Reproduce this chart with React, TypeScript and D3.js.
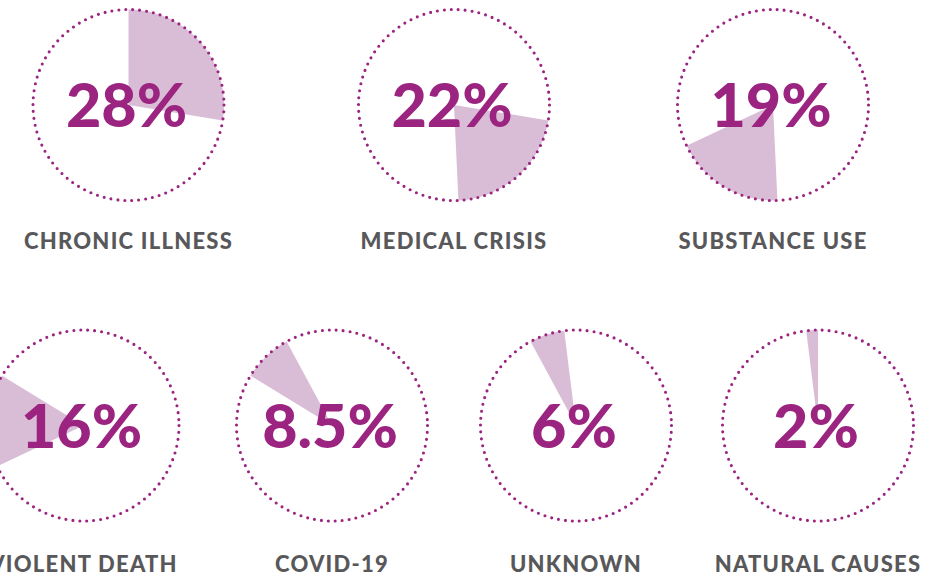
import React from "react";
import * as d3 from "d3";

const categories = ["CHRONIC ILLNESS", "MEDICAL CRISIS", "SUBSTANCE USE", "VIOLENT DEATH", "COVID-19", "UNKNOWN", "NATURAL CAUSES"];
const values = [28, 22, 19, 16, 8.5, 6, 2];
const valueLabels = ["28%", "22%", "19%", "16%", "8.5%", "6%", "2%"];

const W = 950;
const H = 577;
const R = 95.5;
const rowY = [105, 425.5];
const labelY = [144, 146.5];
const centersX = [128.5, 454, 773, 83.5, 332, 576, 818];
const rowOf = [0, 0, 0, 1, 1, 1, 1];

const PURPLE = "#9B2480";
const WEDGE = "#D9BDD6";
const GRAY = "#58585A";

export default function App() {
  const pie = d3.pie<number>().sort(null).value((d) => d).startAngle(0).endAngle(2 * Math.PI);
  const slices = pie(values);
  const arc = d3.arc<d3.PieArcDatum<number>>().innerRadius(0).outerRadius(R);

  return (
    <svg width={W} height={H} style={{ position: "absolute", left: 0, top: 0 }}>
      <rect width={W} height={H} fill="#fff" />
      {slices.map((s, i) => {
        const cx = centersX[i];
        const row = rowOf[i];
        const cy = rowY[row];
        return (
          <g key={i} transform={`translate(${cx},${cy})`}>
            <path d={arc(s) || ""} fill={WEDGE} />
            <circle
              r={R}
              fill="none"
              stroke={PURPLE}
              strokeWidth={3.1}
              strokeLinecap="round"
              strokeDasharray={`0 ${(2 * Math.PI * R) / 86}`}
            />
            <text
              x={-2}
              y={22}
              textAnchor="middle"
              fill={PURPLE}
              style={{ fontFamily: "Lato", fontWeight: 900, fontSize: 61 }}
            >
              {valueLabels[i]}
            </text>
            <text
              x={0}
              y={labelY[row]}
              textAnchor="middle"
              fill={GRAY}
              style={{ fontFamily: "Lato", fontWeight: 900, fontSize: 22, letterSpacing: "1.25px" }}
            >
              {categories[i]}
            </text>
          </g>
        );
      })}
    </svg>
  );
}
